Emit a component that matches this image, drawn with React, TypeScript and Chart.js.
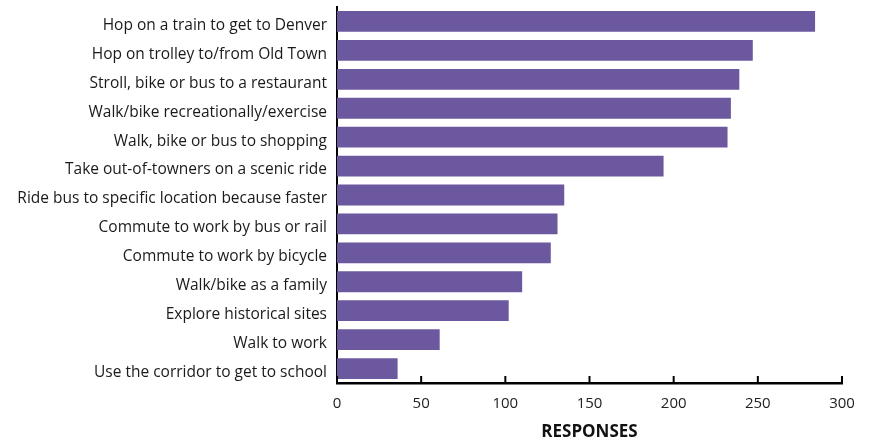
import React, { useEffect, useRef } from "react";
import { Chart, registerables } from "chart.js";

Chart.register(...registerables);

const categories = [
  "Hop on a train to get to Denver",
  "Hop on trolley to/from Old Town",
  "Stroll, bike or bus to a restaurant",
  "Walk/bike recreationally/exercise",
  "Walk, bike or bus to shopping",
  "Take out-of-towners on a scenic ride",
  "Ride bus to specific location because faster",
  "Commute to work by bus or rail",
  "Commute to work by bicycle",
  "Walk/bike as a family",
  "Explore historical sites",
  "Walk to work",
  "Use the corridor to get to school",
];
const responses = [284, 247, 239, 234, 232, 194, 135, 131, 127, 110, 102, 61, 36];
const xTicks = [0, 50, 100, 150, 200, 250, 300];
const axisTitle = "RESPONSES";

const FONT = "'Open Sans', Lato, 'DejaVu Sans', sans-serif";

const innerTicks = {
  id: "innerTicks",
  afterDraw(chart: any) {
    const xs = chart.scales.x;
    const ctx = chart.ctx;
    ctx.save();
    ctx.strokeStyle = "#000";
    ctx.lineWidth = 2;
    xs.ticks.forEach((t: any) => {
      const px = xs.getPixelForValue(t.value);
      ctx.beginPath();
      ctx.moveTo(px, xs.top);
      ctx.lineTo(px, xs.top - 7);
      ctx.stroke();
    });
    ctx.restore();
  },
};

export default function App() {
  const ref = useRef<HTMLCanvasElement>(null);
  useEffect(() => {
    if (!ref.current) return;
    const chart = new Chart(ref.current, {
      type: "bar",
      data: {
        labels: categories,
        datasets: [
          {
            data: responses,
            backgroundColor: "#6b589e",
            borderWidth: 0,
            barPercentage: 0.72,
            categoryPercentage: 1,
          },
        ],
      },
      options: {
        indexAxis: "y",
        responsive: false,
        animation: false,
        layout: { padding: { top: 7, right: 31, bottom: 0, left: 0 } },
        plugins: { legend: { display: false }, tooltip: { enabled: false } },
        scales: {
          x: {
            min: 0,
            max: 300,
            afterBuildTicks: (s: any) => {
              s.ticks = xTicks.map((v) => ({ value: v }));
            },
            afterFit: (s: any) => {
              s.height = 60;
            },
            grid: { display: false, drawTicks: false },
            border: { display: true, color: "#000", width: 2.5 },
            ticks: {
              padding: 12,
              color: "#222",
              font: { family: FONT, size: 15 },
            },
            title: {
              display: true,
              text: axisTitle,
              color: "#111",
              font: { family: FONT, size: 17, weight: "bold" },
              padding: { top: 0, bottom: 1 },
            },
          },
          y: {
            afterFit: (s: any) => {
              s.width = 337;
              s.paddingTop = 0;
              s.paddingBottom = 0;
            },
            grid: { display: false, drawTicks: false },
            border: { display: true, color: "#000", width: 2 },
            ticks: {
              padding: 10,
              labelOffset: 4,
              color: "#1a1a1a",
              font: { family: FONT, size: 15.5 },
            },
          },
        },
      },
      plugins: [innerTicks],
    });
    return () => chart.destroy();
  }, []);
  return (
    <div style={{ position: "absolute", left: 0, top: 0, width: 873, height: 443, background: "#fff" }}>
      <canvas ref={ref} width={873} height={443} />
    </div>
  );
}
